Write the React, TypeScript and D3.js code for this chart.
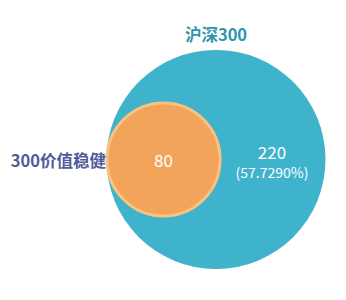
import React from "react";
import * as d3 from "d3";

const setNames = ["沪深300", "300价值稳健"];
const setSizes = [300, 80];
const regionValues = [220, 80];
const regionPercent = ["57.7290%"];
const colors = ["#3fb3cc", "#f2a55a"];

export default function App() {
  const width = 346;
  const height = 300;
  const r = d3.scaleSqrt().domain([0, setSizes[0]]).range([0, 109.5]);
  const bigR = r(setSizes[0]);
  const smallR = r(setSizes[1]);
  const bigCx = 216;
  const cy = 159.5;
  const smallCx = bigCx - bigR + smallR + 0.5;
  const font = "'Noto Sans CJK SC', 'Noto Sans', sans-serif";
  return (
    <svg width={width} height={height} style={{ position: "absolute", left: 0, top: 0 }}>
      <circle cx={bigCx} cy={cy} r={bigR} fill={colors[0]} />
      <circle cx={smallCx} cy={cy} r={smallR} fill={colors[1]} stroke="#fbc27f" strokeWidth={3} />
      <text x={bigCx} y={34} textAnchor="middle" dominantBaseline="central" fontFamily={font} fontWeight="bold" fontSize={16.5} fill="#2e95aa">
        {setNames[0]}
      </text>
      <text x={smallCx - smallR - 1} y={cy} textAnchor="end" dominantBaseline="central" fontFamily={font} fontWeight="bold" fontSize={16.5} fill="#4f5a9a">
        {setNames[1]}
      </text>
      <text x={smallCx} y={cy} textAnchor="middle" dominantBaseline="central" fontFamily={font} fontSize={17} fill="#ffffff">
        {regionValues[1]}
      </text>
      <text x={272} y={151} textAnchor="middle" dominantBaseline="central" fontFamily={font} fontSize={17} fill="#ffffff">
        {regionValues[0]}
      </text>
      <text x={272} y={171.5} textAnchor="middle" dominantBaseline="central" fontFamily={font} fontSize={14} fill="#ffffff">
        {`(${regionPercent[0]})`}
      </text>
    </svg>
  );
}
